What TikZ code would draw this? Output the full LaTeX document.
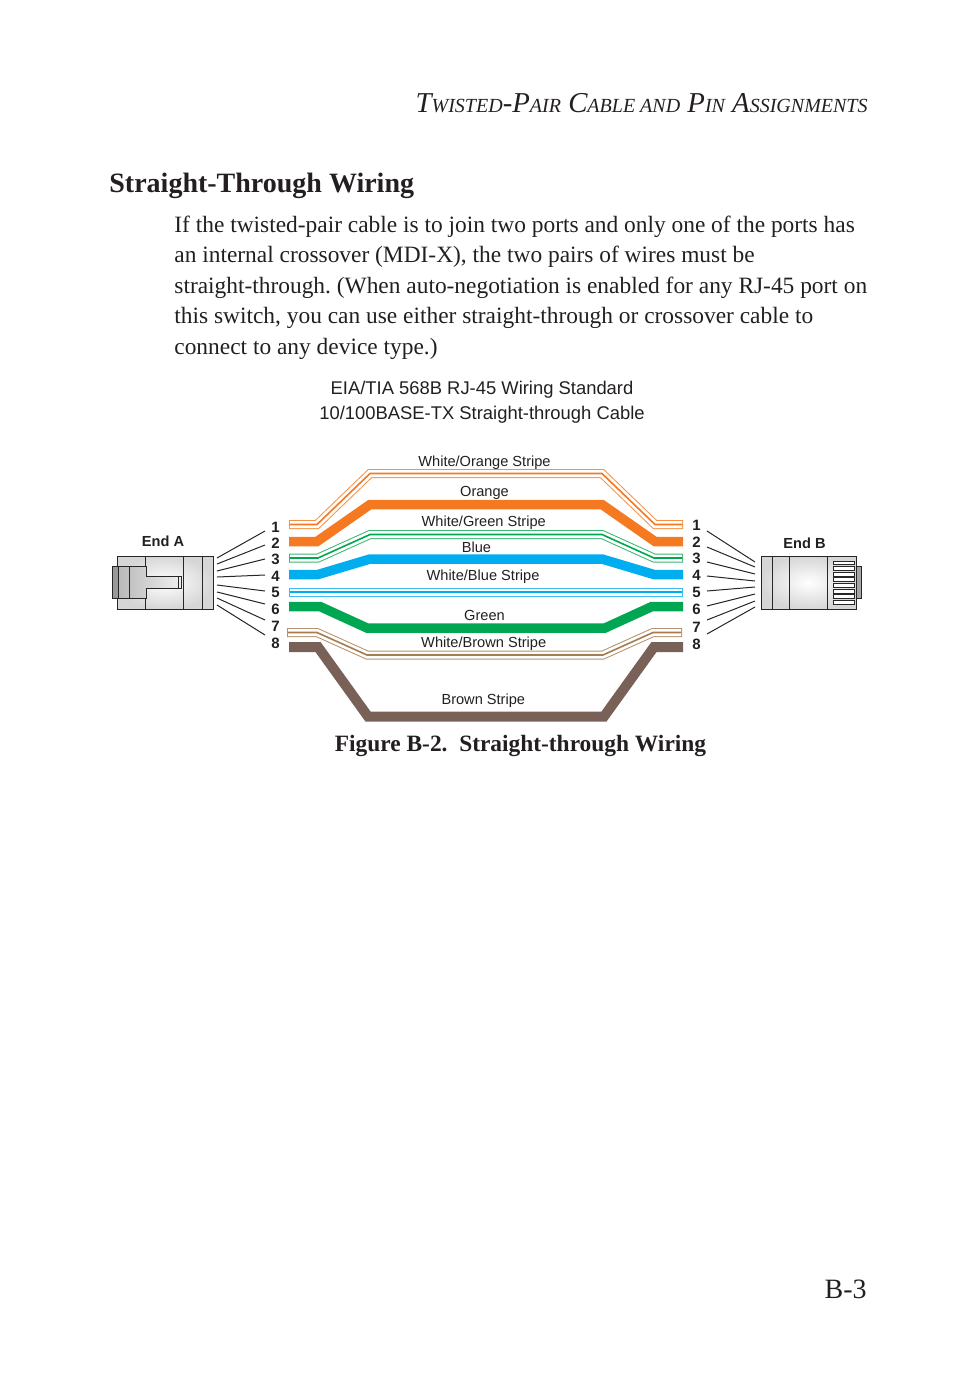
\documentclass[tikz,border=0pt]{standalone}
\usepackage{fontspec}
\setmainfont{Liberation Serif}
\newfontfamily\arialf{Liberation Sans}
\frenchspacing
\definecolor{txt}{RGB}{35,31,32}
\definecolor{wor}{RGB}{244,121,32}
\definecolor{worl}{RGB}{246,145,70}
\definecolor{wgr}{RGB}{0,166,81}
\definecolor{wgrl}{RGB}{60,182,115}
\definecolor{wbl}{RGB}{0,174,239}
\definecolor{wbll}{RGB}{60,188,242}
\definecolor{wbr}{RGB}{122,97,87}
\definecolor{wtan}{RGB}{166,124,82}
\definecolor{wtanl}{RGB}{182,146,108}
\newcommand\hsc[1]{{\fontsize{10}{12}\selectfont #1}}
\newcommand\stripedwire[3]{%
  \draw[line width=4.5pt,#1] #3;
  \draw[line width=3.5pt,white,shorten <=0.5pt,shorten >=0.5pt] #3;
  \draw[line width=0.8pt,#2,shorten <=0.5pt,shorten >=0.5pt] #3;}
\tikzset{
  bodytext/.style={inner sep=0pt,anchor=base west,text=txt,font=\fontsize{11.7}{14}\selectfont},
  wirelabel/.style={inner sep=0pt,anchor=base,text=txt,font=\arialf\fontsize{7.3}{9}\selectfont},
  pinnum/.style={inner sep=0pt,anchor=center,text=txt,font=\arialf\bfseries\fontsize{7.5}{9}\selectfont},
  endlabel/.style={inner sep=0pt,anchor=center,text=txt,font=\arialf\bfseries\fontsize{7.3}{9}\selectfont},
  fan/.style={line width=0.5pt,draw=black!85},
  plugline/.style={line width=0.5pt,draw=black!85},
  thickwire/.style={line width=4.75pt}
}
\begin{document}
\begin{tikzpicture}[x=0.5pt,y=-0.5pt]
\useasboundingbox (0,0) rectangle (954,1388);

% header
\node[inner sep=0pt,anchor=base east,text=txt,font=\fontsize{14.4}{16}\selectfont\itshape] (hdr) at (868,112)
  {T\hsc{WISTED}-P\hsc{AIR} C\hsc{ABLE AND} P\hsc{IN} A\hsc{SSIGNMENTS}};
% title
\node[inner sep=0pt,anchor=base west,text=txt,font=\fontsize{14}{16}\selectfont\bfseries] (title) at (109,192)
  {Straight-Through Wiring};
% paragraph
\node[bodytext] (p1) at (174,232) {If the twisted-pair cable is to join two ports and only one of the ports has};
\node[bodytext] (p2) at (174,262.5) {an internal crossover (MDI-X), the two pairs of wires must be};
\node[bodytext] (p3) at (174,293) {straight-through. (When auto-negotiation is enabled for any RJ-45 port on};
\node[bodytext] (p4) at (174,323.5) {this switch, you can use either straight-through or crossover cable to};
\node[bodytext] (p5) at (174,354.5) {connect to any device type.)};

% diagram titles
\node[inner sep=0pt,anchor=base,text=txt,font=\arialf\fontsize{9.2}{11}\selectfont] (t1) at (482,394.5) {EIA/TIA 568B RJ-45 Wiring Standard};
\node[inner sep=0pt,anchor=base,text=txt,font=\arialf\fontsize{9.2}{11}\selectfont] (t2) at (482,419.5) {10/100BASE-TX Straight-through Cable};

% wires
\stripedwire{worl}{wor}{(289,524.5) -- (317,524.5) -- (370,473.5) -- (602,473.5) -- (655,524.5) -- (683,524.5)}
\draw[thickwire,wor] (289,541.5) -- (317,541.5) -- (370,504.5) -- (602,504.5) -- (655,541.5) -- (683,541.5);
\stripedwire{wgrl}{wgr}{(289,558) -- (318,558) -- (370,534.5) -- (602,534.5) -- (654,558) -- (683,558)}
\draw[thickwire,wbl] (289,574.5) -- (318,574.5) -- (370,559) -- (602,559) -- (654,574.5) -- (683,574.5);
\stripedwire{wbll}{wbl}{(289,592) -- (683,592)}
\draw[thickwire,wgr] (289,606.5) -- (320,606.5) -- (367,628) -- (605,628) -- (652,606.5) -- (683,606.5);
\stripedwire{wtanl}{wtan}{(287,632.5) -- (317,632.5) -- (367,655) -- (603,655) -- (653,632.5) -- (682,632.5)}
\draw[line width=5pt,wbr] (289,647) -- (318,647) -- (368,716.5) -- (604,716.5) -- (654,647) -- (683,647);

% wire labels
\node[wirelabel] (lwo) at (484.5,466) {White/Orange Stripe};
\node[wirelabel] (lo)  at (484.5,496) {Orange};
\node[wirelabel] (lwg) at (483.7,526) {White/Green Stripe};
\node[wirelabel] (lb)  at (476.5,552) {Blue};
\node[wirelabel] (lwb) at (483,580) {White/Blue Stripe};
\node[wirelabel] (lg)  at (484.5,620) {Green};
\node[wirelabel] (lwbr) at (483.7,647) {White/Brown Stripe};
\node[wirelabel] (lbr) at (483.3,704) {Brown Stripe};

% pin numbers
\foreach \i/\y in {1/527.5,2/543.5,3/559.5,4/576,5/592.5,6/609.5,7/626.5,8/643.5}{
  \node[pinnum] (na\i) at (275.5,\y) {\i};
}
\foreach \i/\y in {1/525.5,2/542,3/558.5,4/575.5,5/592.5,6/609.5,7/627,8/644}{
  \node[pinnum] (nb\i) at (696.5,\y) {\i};
}

% fan lines A
\foreach \i/\ya/\yb in {1/558/531,2/564/545,3/571/559,4/577/575,5/585/591,6/592/604,7/598/620,8/605/635}{
  \coordinate (fa\i) at (217,\ya);
  \coordinate (ga\i) at (265,\yb);
  \draw[fan] (fa\i) -- (ga\i);
}
% fan lines B
\foreach \i/\ya/\yb in {1/531/562,2/547/567,3/562/574,4/576/581,5/591/587,6/606/594,7/620/601,8/634/607}{
  \coordinate (fb\i) at (707,\ya);
  \coordinate (gb\i) at (755,\yb);
  \draw[fan] (fb\i) -- (gb\i);
}

% End labels
\node[endlabel] (enda) at (163,541) {End A};
\node[endlabel] (endb) at (804.5,543) {End B};

% Plug A
\fill[inner color=white,outer color=black!16] (117,556) rectangle (213,609);
\draw[plugline] (117,556) rectangle (213,609);
\draw[plugline] (145,556) -- (145,566) (145,598) -- (145,609);
\draw[plugline] (183,556) -- (183,609);
\draw[plugline] (202,556) -- (202,609);
\fill[left color=black!30,right color=black!6] (112,566) -- (146,566) -- (146,576) -- (181,576) -- (181,588) -- (146,588) -- (146,598) -- (112,598) -- cycle;
\fill[black!40] (112,566) rectangle (118,598);
\draw[plugline] (112,566) -- (146,566) -- (146,576) -- (181,576) -- (181,588) -- (146,588) -- (146,598) -- (112,598) -- cycle;
\draw[plugline] (118,566) -- (118,598);
\draw[plugline] (129,566) -- (129,598);
\draw[plugline] (178.5,576) -- (178.5,588);

% Plug B
\fill[inner color=white,outer color=black!16] (761,556) rectangle (856,609);
\fill[black!35] (856,566) rectangle (861,598);
\draw[plugline] (856,566) rectangle (861,598);
\draw[plugline] (761,556) rectangle (856,609);
\draw[plugline] (772,556) -- (772,609);
\draw[plugline] (789,556) -- (789,609);
\draw[plugline] (827,556) -- (827,609);
\foreach \k in {0,...,7}{
  \draw[plugline,fill=white] (833,{561+\k*5.65}) rectangle (854,{564.9+\k*5.65});
}

% caption
\node[inner sep=0pt,anchor=base,text=txt,font=\fontsize{11.7}{14}\selectfont\bfseries] (cap) at (520.5,751)
  {Figure B-2.\ \ Straight-through Wiring};
% page number
\node[inner sep=0pt,anchor=base east,text=txt,font=\fontsize{14}{16}\selectfont] (pg) at (867,1298) {B-3};
\end{tikzpicture}
\end{document}
